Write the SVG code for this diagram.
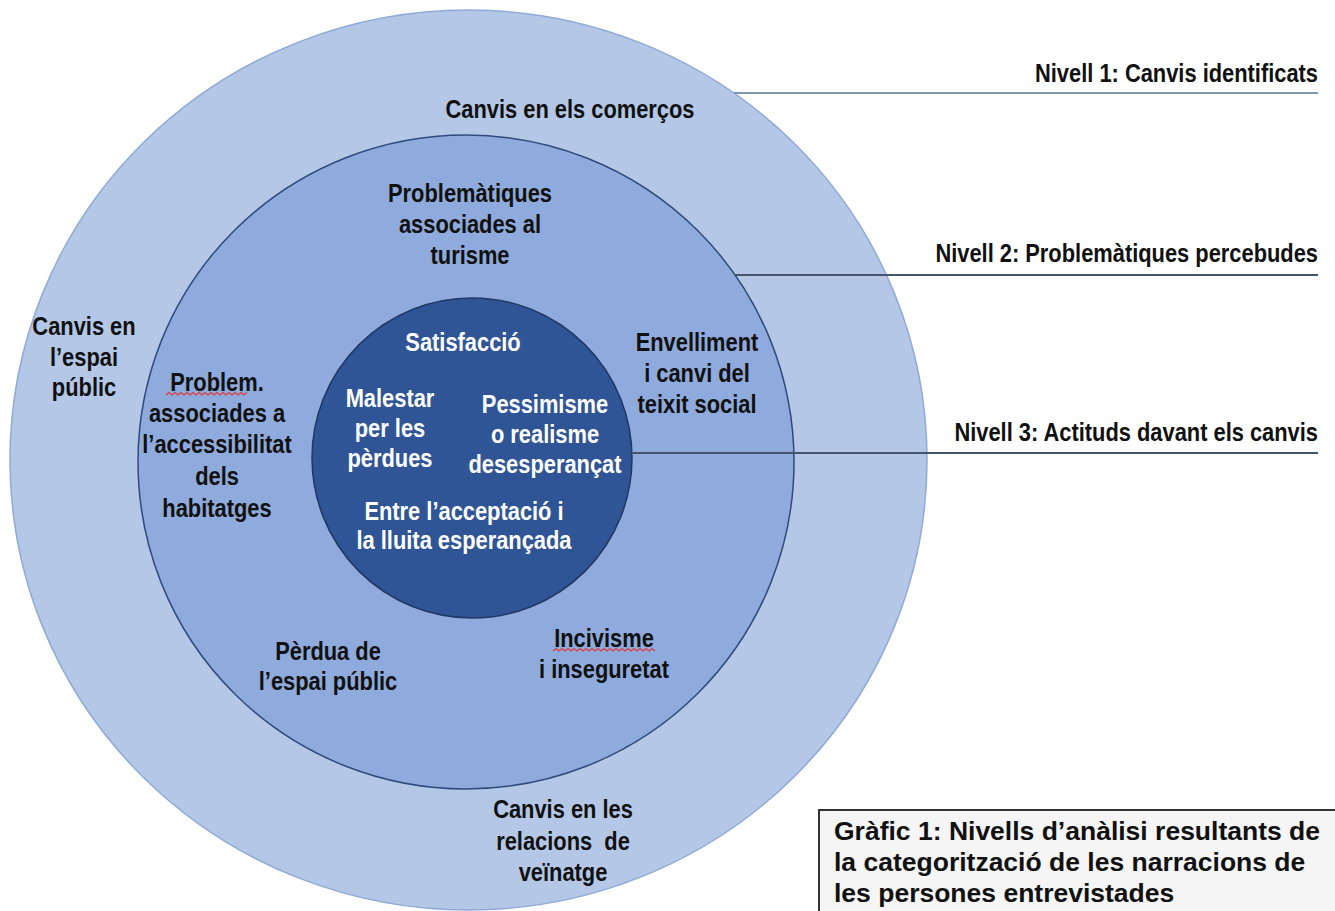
<svg xmlns="http://www.w3.org/2000/svg" width="1335" height="911" viewBox="0 0 1335 911">
<style>
.t{font-family:"Liberation Sans",Arial,sans-serif;font-weight:bold;font-size:25px;text-anchor:middle;fill:#111}
.w{fill:#fff}
.e{text-anchor:end}
.cap{font-family:"Liberation Sans",Arial,sans-serif;font-weight:bold;font-size:26.5px;fill:#111}
.sq{fill:none;stroke:#e0393e;stroke-width:1.2}
.ld{stroke:#44546a;stroke-width:2;fill:none}
</style>
<rect width="1335" height="911" fill="#fff"/>
<g id="ring-outer"><ellipse cx="468.5" cy="460" rx="458.5" ry="450" fill="#b4c7e7" stroke="#8eaad6" stroke-width="1.5"/></g>
<g id="ring-middle"><ellipse cx="466" cy="462" rx="328" ry="327" fill="#8faadc" stroke="#2f4b7c" stroke-width="1.5"/></g>
<g id="ring-inner"><ellipse cx="472" cy="458" rx="160" ry="160" fill="#2f5597" stroke="#203864" stroke-width="1.5"/></g>
<g id="connectors">
<line class="ld" x1="734" y1="93" x2="1318" y2="93" style="stroke:#8496b0"/>
<line class="ld" x1="735" y1="275" x2="1318" y2="275"/>
<line class="ld" x1="632" y1="453" x2="1318" y2="453"/>
</g>
<g id="n-comercos" transform="translate(570,0) scale(0.875,1)"><text class="t" x="0" y="118">Canvis en els comerços</text></g>
<g id="n-turisme" transform="translate(470,0) scale(0.875,1)"><text class="t" x="0" y="202">Problemàtiques</text><text class="t" x="0" y="233">associades al</text><text class="t" x="0" y="264">turisme</text></g>
<g id="n-espai" transform="translate(84,0) scale(0.875,1)"><text class="t" x="0" y="335">Canvis en</text><text class="t" x="0" y="366">l’espai</text><text class="t" x="0" y="396">públic</text></g>
<g id="n-habitatges" transform="translate(217,0) scale(0.875,1)"><text class="t" x="0" y="391">Problem.</text><text class="t" x="0" y="422">associades a</text><text class="t" x="0" y="453">l’accessibilitat</text><text class="t" x="0" y="485">dels</text><text class="t" x="0" y="517">habitatges</text></g>
<path class="sq" d="M166 395 l3 -2.5 l3 2.5 l3 -2.5 l3 2.5 l3 -2.5 l3 2.5 l3 -2.5 l3 2.5 l3 -2.5 l3 2.5 l3 -2.5 l3 2.5 l3 -2.5 l3 2.5 l3 -2.5 l3 2.5 l3 -2.5 l3 2.5 l3 -2.5 l3 2.5 l3 -2.5 l3 2.5 l3 -2.5 l3 2.5 l3 -2.5 l3 2.5 l3 -2.5"/>
<g id="n-satisfaccio" transform="translate(463,0) scale(0.875,1)"><text class="t w" x="0" y="351">Satisfacció</text></g>
<g id="n-malestar" transform="translate(390,0) scale(0.875,1)"><text class="t w" x="0" y="407">Malestar</text><text class="t w" x="0" y="437">per les</text><text class="t w" x="0" y="467">pèrdues</text></g>
<g id="n-pessimisme" transform="translate(545,0) scale(0.875,1)"><text class="t w" x="0" y="413">Pessimisme</text><text class="t w" x="0" y="443">o realisme</text><text class="t w" x="0" y="473">desesperançat</text></g>
<g id="n-acceptacio" transform="translate(464,0) scale(0.875,1)"><text class="t w" x="0" y="520">Entre l’acceptació i</text><text class="t w" x="0" y="549">la lluita esperançada</text></g>
<g id="n-envelliment" transform="translate(697,0) scale(0.875,1)"><text class="t" x="0" y="351">Envelliment</text><text class="t" x="0" y="382">i canvi del</text><text class="t" x="0" y="413">teixit social</text></g>
<g id="n-perdua" transform="translate(328,0) scale(0.875,1)"><text class="t" x="0" y="660">Pèrdua de</text><text class="t" x="0" y="690">l’espai públic</text></g>
<g id="n-incivisme" transform="translate(604,0) scale(0.875,1)"><text class="t" x="0" y="647">Incivisme</text><text class="t" x="0" y="678">i inseguretat</text></g>
<path class="sq" d="M553 651 l3 -2.5 l3 2.5 l3 -2.5 l3 2.5 l3 -2.5 l3 2.5 l3 -2.5 l3 2.5 l3 -2.5 l3 2.5 l3 -2.5 l3 2.5 l3 -2.5 l3 2.5 l3 -2.5 l3 2.5 l3 -2.5 l3 2.5 l3 -2.5 l3 2.5 l3 -2.5 l3 2.5 l3 -2.5 l3 2.5 l3 -2.5 l3 2.5 l3 -2.5 l3 2.5 l3 -2.5 l3 2.5 l3 -2.5 l3 2.5 l3 -2.5 l3 2.5"/>
<g id="n-veinatge" transform="translate(563,0) scale(0.875,1)"><text class="t" x="0" y="818">Canvis en les</text><text class="t" x="0" y="850" xml:space="preserve">relacions  de</text><text class="t" x="0" y="881">veïnatge</text></g>
<g id="n-nivell1" transform="translate(1318,0) scale(0.875,1)"><text class="t e" x="0" y="82">Nivell 1: Canvis identificats</text></g>
<g id="n-nivell2" transform="translate(1318,0) scale(0.875,1)"><text class="t e" x="0" y="262">Nivell 2: Problemàtiques percebudes</text></g>
<g id="n-nivell3" transform="translate(1318,0) scale(0.875,1)"><text class="t e" x="0" y="441">Nivell 3: Actituds davant els canvis</text></g>
<g id="n-caption">
<rect x="819" y="810" width="530" height="120" fill="#f5f5f5" stroke="#333" stroke-width="2"/>
<text class="cap" x="834" y="840">Gràfic 1: Nivells d’anàlisi resultants de</text>
<text class="cap" x="834" y="871">la categorització de les narracions de</text>
<text class="cap" x="834" y="902">les persones entrevistades</text>
</g>
</svg>
